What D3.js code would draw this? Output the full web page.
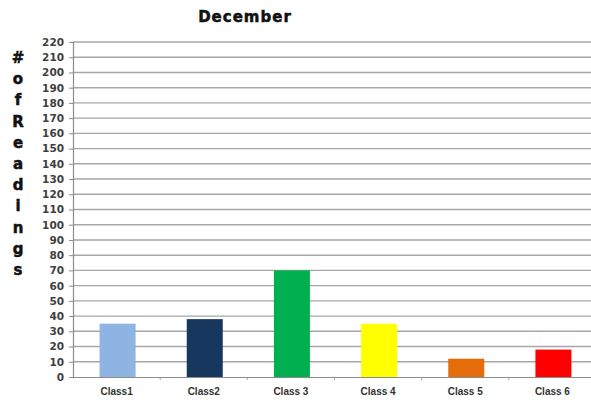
<!DOCTYPE html>
<html>
<head>
<meta charset="utf-8">
<script src="https://cdn.jsdelivr.net/npm/d3@7"></script>
<style>
  html, body { margin: 0; padding: 0; background: #fff; }
  svg { display: block; }
</style>
</head>
<body>
<svg id="chart" width="591" height="404"></svg>
<script>
// Readings per class for December
const categories = ["Class1", "Class2", "Class 3", "Class 4", "Class 5", "Class 6"];
const readings = [35, 38, 70, 35, 12, 18];
const barColors = ["#8db4e2", "#17375e", "#00b050", "#ffff00", "#e46c0a", "#ff0000"];
const yTicks = d3.range(0, 221, 10);
const titleText = "December";
const yLabelChars = ["#", "o", "f", "R", "e", "a", "d", "i", "n", "g", "s"];

const svg = d3.select("#chart");
const W = 591, H = 404;
const plotLeft = 73, plotRight = 596, plotTop = 42, plotBottom = 377;

const x = d3.scaleBand().domain(categories).range([plotLeft, plotRight]).padding(0);
const y = d3.scaleLinear().domain([0, 220]).range([plotBottom, plotTop]);

// horizontal gridlines
svg.append("g")
  .selectAll("line")
  .data(yTicks.filter(d => d > 0))
  .join("line")
  .attr("x1", plotLeft).attr("x2", W)
  .attr("y1", d => y(d)).attr("y2", d => y(d))
  .attr("stroke", "#a6a6a6")
  .attr("stroke-width", 1.4);

// bars
const barW = 36;
svg.append("g")
  .selectAll("rect")
  .data(categories)
  .join("rect")
  .attr("x", (d) => x(d) + x.bandwidth() / 2 - barW / 2 + 1)
  .attr("y", (d, i) => y(readings[i]))
  .attr("width", barW)
  .attr("height", (d, i) => y(0) - y(readings[i]))
  .attr("fill", (d, i) => barColors[i]);

// y axis
const yAxis = svg.append("g")
  .attr("transform", `translate(${plotLeft},0)`)
  .call(d3.axisLeft(y).tickValues(yTicks).tickSize(4).tickPadding(5));
yAxis.select(".domain").attr("stroke", "#8c8c8c").attr("stroke-width", 1.2);
yAxis.selectAll(".tick line").attr("stroke", "#8c8c8c");
yAxis.selectAll(".tick text")
  .attr("font-family", "DejaVu Sans, sans-serif")
  .attr("font-weight", "bold")
  .attr("font-size", 10.5)
  .attr("fill", "#404040");

// x axis
const xAxis = svg.append("g")
  .attr("transform", `translate(0,${plotBottom})`)
  .call(d3.axisBottom(x).tickSize(0).tickPadding(11));
xAxis.select(".domain").attr("stroke", "#8c8c8c").attr("stroke-width", 1.2);
xAxis.selectAll(".tick text")
  .attr("font-family", "Liberation Sans, Arial, sans-serif")
  .attr("font-weight", "bold")
  .attr("font-size", 10)
  .attr("fill", "#333");

// small category separator ticks
svg.append("g")
  .selectAll("line")
  .data(categories.slice(1))
  .join("line")
  .attr("x1", d => x(d)).attr("x2", d => x(d))
  .attr("y1", plotBottom).attr("y2", plotBottom + 3)
  .attr("stroke", "#a0a0a0");

// title
svg.append("text")
  .attr("x", 245).attr("y", 22)
  .attr("text-anchor", "middle")
  .attr("font-family", "DejaVu Sans, sans-serif")
  .attr("font-weight", "bold")
  .attr("font-size", 15)
  .attr("letter-spacing", 1)
  .attr("fill", "#111")
  .attr("stroke", "#111")
  .attr("stroke-width", 0.5)
  .text(titleText);

// stacked vertical y-axis title
const labelStep = (270 - 58) / (yLabelChars.length - 1);
svg.append("g")
  .selectAll("text")
  .data(yLabelChars)
  .join("text")
  .attr("x", 18)
  .attr("y", (d, i) => 63 + i * labelStep)
  .attr("text-anchor", "middle")
  .attr("font-family", "DejaVu Sans, sans-serif")
  .attr("font-weight", "bold")
  .attr("font-size", 15)
  .attr("fill", "#111")
  .attr("stroke", "#111")
  .attr("stroke-width", 0.5)
  .text(d => d);
</script>
</body>
</html>
